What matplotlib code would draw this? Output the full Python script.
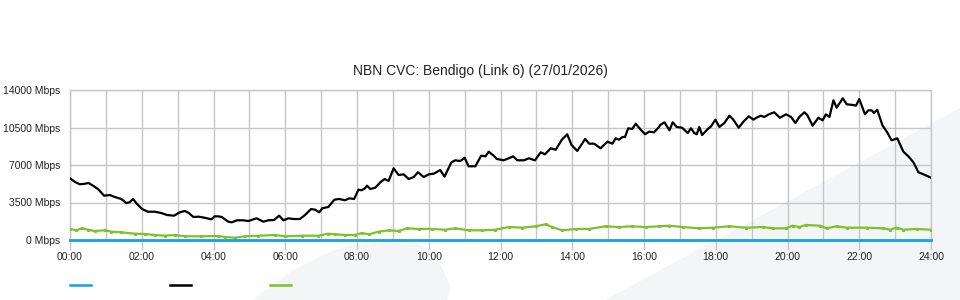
import matplotlib
matplotlib.use("Agg")
import matplotlib.pyplot as plt
from matplotlib.patches import Polygon
from matplotlib.lines import Line2D
from matplotlib.ticker import FixedLocator, FuncFormatter

title = "NBN CVC: Bendigo (Link 6) (27/01/2026)"
y_ticks = [0, 3500, 7000, 10500, 14000]
x_ticks = [0, 2, 4, 6, 8, 10, 12, 14, 16, 18, 20, 22, 24]
x_labels = ["00:00", "02:00", "04:00", "06:00", "08:00", "10:00", "12:00",
            "14:00", "16:00", "18:00", "20:00", "22:00", "24:00"]

black_hours = [0.0, 0.13, 0.27, 0.41, 0.52, 0.64, 0.78, 0.95, 1.11, 1.25, 1.43, 1.57, 1.66, 1.76, 1.85,
               2.01, 2.17, 2.36, 2.54, 2.71, 2.90, 3.06, 3.20, 3.31, 3.44, 3.59, 3.75, 3.94, 4.03, 4.13,
               4.23, 4.41, 4.51, 4.65, 4.83, 4.97, 5.20, 5.39, 5.53, 5.69, 5.83, 5.95, 6.09, 6.22, 6.41,
               6.55, 6.72, 6.83, 6.95, 7.03, 7.20, 7.37, 7.50, 7.67, 7.78, 7.92, 8.04, 8.13, 8.22,
               8.28, 8.37, 8.51, 8.65, 8.77, 8.88, 9.02, 9.16, 9.30, 9.44, 9.58, 9.70, 9.86, 10.00,
               10.14, 10.32, 10.44, 10.63, 10.74, 10.88, 11.00, 11.11, 11.30, 11.46, 11.58, 11.67,
               11.81, 11.90, 12.09, 12.27, 12.35, 12.47, 12.66, 12.79, 12.96, 13.12, 13.24, 13.40,
               13.54, 13.71, 13.86, 13.98, 14.14, 14.36, 14.47, 14.61, 14.79, 14.98, 15.12, 15.21,
               15.30, 15.40, 15.47, 15.56, 15.67, 15.77, 15.91, 16.03, 16.14, 16.28, 16.42, 16.45,
               16.57, 16.71, 16.80, 16.91, 17.06, 17.22, 17.31, 17.40, 17.47, 17.54, 17.62, 17.78,
               17.87, 17.99, 18.10, 18.24, 18.38, 18.49, 18.64, 18.77, 18.92, 19.05, 19.17, 19.26,
               19.35, 19.48, 19.63, 19.79, 19.96, 20.10, 20.22, 20.33, 20.47, 20.55, 20.70, 20.86,
               20.98, 21.07, 21.17, 21.28, 21.37, 21.54, 21.65, 21.83, 21.91, 22.00, 22.16, 22.25,
               22.35, 22.41, 22.50, 22.65, 22.78, 22.90, 23.06, 23.23, 23.37, 23.51, 23.65, 23.79, 24.0]
black_values = [5760, 5440, 5200, 5250, 5320, 5070, 4760, 4135, 4200, 4010, 3830, 3450, 3520, 3830, 3425,
                2890, 2640, 2640, 2520, 2330, 2270, 2585, 2710, 2520, 2150, 2175, 2080, 1930, 2210, 2210,
                2150, 1710, 1650, 1840, 1840, 1770, 2025, 1710, 1840, 1870, 2270, 1840, 2025, 1960, 1960,
                2330, 2890, 2830, 2585, 2960, 3080, 3760, 3830, 3705, 3890, 3830, 4695, 4640, 4825,
                5070, 4760, 4880, 5385, 5690, 5505, 6690, 6070, 6130, 5690, 5880, 6320, 5880, 6130,
                6190, 6530, 5910, 7250, 7440, 7370, 7680, 6880, 6880, 7870, 7810, 8240,
                7870, 7560, 7440, 7680, 7810, 7440, 7440, 7625, 7440, 8185, 8000, 8560,
                8430, 9360, 9865, 8870, 8310, 9430, 8990, 8990, 8560, 9175, 8990, 9490,
                9360, 9610, 9610, 10425, 10360, 10850, 10290, 9865, 10110, 10050, 10550, 10730,
                10985, 10240, 10985, 10550, 10480, 9990, 10425, 9990, 9865, 10550, 9800, 10360,
                10610, 11230, 10550, 10920, 11600, 11230, 10480, 11040, 11545, 11230, 11480, 11600,
                11480, 11730, 11920, 11410, 11730, 11480, 10920, 11480, 11920, 11670, 10670, 11410,
                11170, 11730, 11480, 13040, 12350, 13225, 12665, 12600, 12535, 13160, 11730, 12100,
                12100, 11850, 12160, 10670, 10050, 9305, 9490, 8240, 7810, 7250, 6320, 6130, 5815]

green_hours = [0.0, 0.18, 0.33, 0.50, 0.69, 0.97, 1.15, 1.43, 1.80, 2.08, 2.36, 2.64, 2.92, 3.20, 3.65,
               4.13, 4.32, 4.60, 4.88, 5.25, 5.71, 5.99, 6.46, 6.92, 7.20, 7.39, 7.67, 7.94, 8.13, 8.33,
               8.60, 8.88, 9.16, 9.39, 9.72, 10.09, 10.46, 10.74, 11.11, 11.48, 11.86, 12.23, 12.61,
               12.98, 13.26, 13.44, 13.72, 14.10, 14.47, 14.93, 15.30, 15.67, 16.05, 16.42, 16.71,
               17.08, 17.54, 17.92, 18.38, 18.84, 19.31, 19.59, 19.96, 20.14, 20.33, 20.52, 20.91,
               21.09, 21.37, 21.65, 22.21, 22.67, 22.86, 23.04, 23.23, 23.60, 24.0]
green_values = [1030, 905, 1090, 960, 840, 905, 775, 720, 590, 560, 470, 400, 470, 345, 345,
                375, 280, 215, 345, 400, 470, 345, 400, 400, 590, 530, 470, 470, 650, 530,
                775, 905, 840, 1090, 1030, 1030, 960, 1090, 905, 905, 960, 1210, 1150,
                1280, 1465, 1210, 905, 1030, 1030, 1280, 1210, 1280, 1210, 1280, 1335,
                1210, 1090, 1150, 1280, 1150, 1210, 1090, 1090, 1335, 1210, 1400, 1335,
                1090, 1280, 1150, 1150, 1090, 960, 1150, 960, 1030, 960]

blue_hours = [0, 24]
blue_values = [0, 0]

BLUE = "#14a3e3"
GREEN = "#7cc229"
BLACK = "#000000"
GRID = "#c6c6c6"

plt.rcParams['font.family'] = ['Liberation Sans', 'DejaVu Sans']

fig = plt.figure(figsize=(9.6, 3.0), dpi=100)
W, H = 960.0, 300.0

# background watermark swooshes
def fc(pts):
    return [(x / W, 1 - y / H) for x, y in pts]

fig.patches.append(Polygon(fc([(605, 300), (960, 108), (960, 300)]), closed=True,
                           transform=fig.transFigure, facecolor="#f4f5f7", edgecolor="none", zorder=-5))
fig.patches.append(Polygon(fc([(253, 300), (290, 272), (325, 254), (350, 245), (385, 242), (415, 243),
                               (432, 250), (442, 268), (451, 287), (447, 300)]), closed=True,
                           transform=fig.transFigure, facecolor="#f4f5f7", edgecolor="none", zorder=-5))

ax = fig.add_axes([70 / W, 1 - 240 / H, (931 - 70) / W, 150 / H])
ax.set_zorder(2)
ax.set_facecolor("none")

ax.plot(green_hours, green_values, color=GREEN, lw=1.6, marker="s", ms=1.2, mec=GREEN, zorder=3)
ax.plot(black_hours, black_values, color=BLACK, lw=1.6, zorder=4)
ax.plot(blue_hours, blue_values, color=BLUE, lw=2.0, zorder=5, clip_on=False)

ax.set_xlim(0, 24)
ax.set_ylim(0, 14000)
ax.xaxis.set_major_locator(FixedLocator(x_ticks))
ax.xaxis.set_minor_locator(FixedLocator(list(range(1, 24, 2))))
ax.set_xticklabels(x_labels)
ax.yaxis.set_major_locator(FixedLocator(y_ticks))
ax.yaxis.set_major_formatter(FuncFormatter(lambda v, p: f"{int(v)} Mbps"))

ax.grid(True, which="both", axis="x", color=GRID, lw=1.0)
ax.grid(True, which="major", axis="y", color=GRID, lw=1.0)
ax.set_axisbelow(True)
for s in ax.spines.values():
    s.set_color(GRID)
    s.set_linewidth(1.0)

ax.tick_params(axis="x", which="major", length=7, width=1, color=GRID, pad=2,
               labelsize=7.5, labelcolor="#222222")
ax.tick_params(axis="x", which="minor", length=0)
ax.tick_params(axis="y", length=0, pad=7, labelsize=7.5, labelcolor="#222222")

fig.text(0.5, 1 - 71 / H, title, ha="center", va="center", fontsize=10, color="#222222")

# legend swatches (no labels)
for x0, c in [(70, BLUE), (170, BLACK), (270, GREEN)]:
    fig.add_artist(Line2D([x0 / W, (x0 + 21) / W], [1 - 285 / H, 1 - 285 / H],
                          transform=fig.transFigure, color=c, lw=1.8))

fig.savefig("out.png", dpi=100)
